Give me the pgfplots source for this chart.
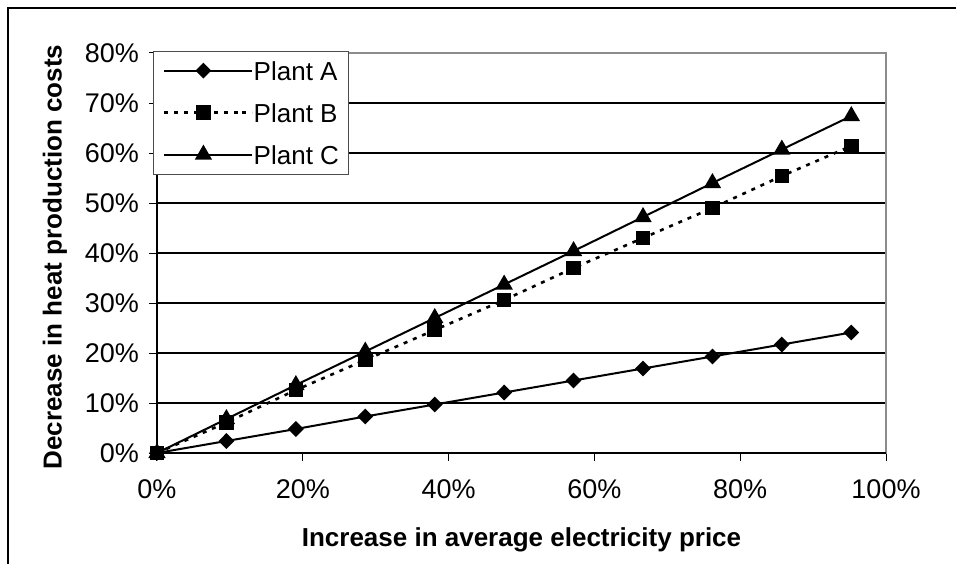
\documentclass[border=0pt]{standalone}
\usepackage{pgfplots}
\pgfplotsset{compat=1.18}
\usepackage{fontspec}
\setmainfont{Liberation Sans}

\definecolor{bordergray}{gray}{0.55}

\begin{document}
\begin{tikzpicture}
\begin{axis}[
  at={(0,0)}, anchor=south west,
  scale only axis,
  width=364.5pt, height=200pt,
  xmin=0, xmax=100, ymin=0, ymax=80,
  clip=false,
  xtick={0,20,40,60,80,100},
  xticklabels={0\%,20\%,40\%,60\%,80\%,100\%},
  ytick={0,10,20,30,40,50,60,70,80},
  yticklabels={0\%,10\%,20\%,30\%,40\%,50\%,60\%,70\%,80\%},
  tick align=outside,
  major tick length=4pt,
  xtick pos=bottom, ytick pos=left,
  tick style={black, line width=0.5pt},
  ticklabel style={font=\fontsize{13.5}{15}\selectfont},
  xticklabel style={yshift=-6pt},
  yticklabel style={xshift=-1.5pt},
  ymajorgrids,
  grid style={black, line width=0.6pt},
  axis line style={bordergray, line width=0.8pt},
  xlabel={\bfseries Increase in average electricity price},
  ylabel={\bfseries Decrease in heat production costs},
  xlabel style={at={(axis description cs:0.5,-0.185)}, anchor=north, inner sep=0pt, font=\fontsize{13}{15}\selectfont},
  ylabel style={at={(axis description cs:-0.14,0.49)}, anchor=center, rotate=0, inner sep=0pt, font=\fontsize{13}{15}\selectfont},
  legend cell align=left,
  legend style={at={(axis description cs:-0.006,1.006)}, anchor=north west,
    draw=black!70, line width=0.5pt, fill=white,
    inner sep=5pt, row sep=11.5pt,
    font=\fontsize{13}{15}\selectfont,
    nodes={inner sep=0pt, text height=9.5pt, text depth=0pt}},
  legend image code/.code={%
    \draw[mark repeat=2,mark phase=2,#1] plot coordinates {(0pt,0pt) (19.5pt,0pt) (39pt,0pt)};
    \path (39pt,0pt) -- (44pt,0pt);},
  after end axis/.code={
    \draw[black, line width=0.8pt] (rel axis cs:0,1) -- (rel axis cs:0,0) -- (rel axis cs:1,0);
  },
]
% Plant A
\addplot[black, line width=1pt, mark=diamond*, mark size=3.25pt, mark options={xscale=1.33, solid}]
  coordinates {(0,0) (9.52,2.4) (19.05,4.8) (28.57,7.3) (38.10,9.7) (47.62,12.1)
               (57.14,14.5) (66.67,16.9) (76.19,19.3) (85.71,21.7) (95.24,24.1)};
\addlegendentry{Plant A}
% Plant B
\addplot[black, line width=1.3pt, dash pattern=on 2pt off 3pt, mark=square*, mark size=3pt, mark options={solid}]
  coordinates {(0,0) (9.52,6.1) (19.05,12.6) (28.57,18.6) (38.10,24.6) (47.62,30.6)
               (57.14,37.0) (66.67,43.0) (76.19,49.0) (85.71,55.4) (95.24,61.4)};
\addlegendentry{Plant B}
% Plant C
\addplot[black, line width=1pt, mark=triangle*, mark size=4pt, mark options={solid}]
  coordinates {(0,0) (9.52,6.8) (19.05,13.6) (28.57,20.3) (38.10,27.0) (47.62,33.7)
               (57.14,40.4) (66.67,47.2) (76.19,54.0) (85.71,60.7) (95.24,67.4)};
\addlegendentry{Plant C}
\end{axis}
% chart frame (open at right and bottom)
\draw[black, line width=1.2pt] (-74.5pt,-60pt) -- (-74.5pt,222.5pt) -- (405pt,222.5pt);
\pgfresetboundingbox
\useasboundingbox (-78.5pt,-55pt) rectangle (399.5pt,226.5pt);
\end{tikzpicture}
\end{document}
